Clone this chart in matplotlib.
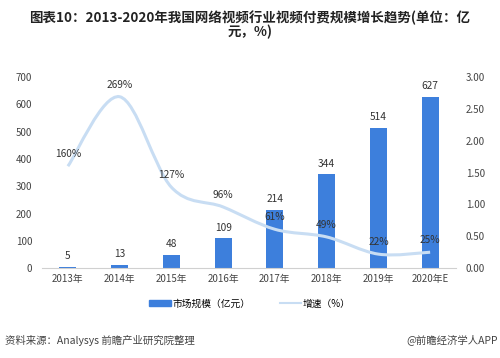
import matplotlib
matplotlib.use("Agg")
import matplotlib.pyplot as plt
from matplotlib.path import Path
from matplotlib.patches import PathPatch

plt.rcParams['font.family'] = ['Noto Sans CJK SC', 'DejaVu Sans']

years = ['2013年', '2014年', '2015年', '2016年', '2017年', '2018年', '2019年', '2020年E']
market_size = [5, 13, 48, 109, 214, 344, 514, 627]
growth = [1.60, 2.69, 1.27, 0.96, 0.61, 0.49, 0.22, 0.25]

bar_color = '#3d7fdc'
line_color = '#c8ddf3'

fig = plt.figure(figsize=(5, 3.58), dpi=100)
ax = fig.add_axes([0.084, 0.251, 0.828, 0.534])
ax2 = ax.twinx()

x = list(range(len(years)))
ax.bar(x, market_size, width=0.33, color=bar_color, zorder=2)
for xi, v in zip(x, market_size):
    ax.annotate(str(v), (xi, v), xytext=(0, 4), textcoords='offset points',
                ha='center', va='bottom', fontsize=7.3, color='#333333')

# smoothed line (Catmull-Rom style bezier, like Excel's smooth line)
verts = [(x[0], growth[0])]
codes = [Path.MOVETO]
n = len(x)
for i in range(n - 1):
    p0 = (x[max(i - 1, 0)], growth[max(i - 1, 0)])
    p1 = (x[i], growth[i])
    p2 = (x[i + 1], growth[i + 1])
    p3 = (x[min(i + 2, n - 1)], growth[min(i + 2, n - 1)])
    c1 = (p1[0] + (p2[0] - p0[0]) / 6, p1[1] + (p2[1] - p0[1]) / 6)
    c2 = (p2[0] - (p3[0] - p1[0]) / 6, p2[1] - (p3[1] - p1[1]) / 6)
    verts += [c1, c2, p2]
    codes += [Path.CURVE4] * 3
ax2.add_patch(PathPatch(Path(verts, codes), facecolor='none',
                        edgecolor=line_color, lw=2.2, zorder=3))
for xi, g in zip(x, growth):
    ax2.annotate(f'{round(g * 100)}%', (xi, g), xytext=(0, 5), textcoords='offset points',
                 ha='center', va='bottom', fontsize=7.3, color='#333333')

ax.set_xlim(-0.5, len(years) - 0.5)
ax.set_ylim(0, 700)
ax.set_yticks(range(0, 701, 100))
ax2.set_ylim(0, 3)
ax2.set_yticks([0, 0.5, 1, 1.5, 2, 2.5, 3])
ax2.set_yticklabels([f'{t:.2f}' for t in [0, 0.5, 1, 1.5, 2, 2.5, 3]])
ax.set_xticks(x)
ax.set_xticklabels(years)

for a in (ax, ax2):
    for s in a.spines.values():
        s.set_visible(False)
    a.tick_params(length=0, labelsize=7, colors='#444444')
ax.spines['bottom'].set_visible(True)
ax.spines['bottom'].set_color('#d0d0d0')
ax.tick_params(axis='y', pad=7)
ax2.tick_params(axis='y', pad=7)
ax.tick_params(axis='x', pad=4)

# legend
h1 = plt.Rectangle((0, 0), 1, 1, color=bar_color)
h2 = plt.Line2D([], [], color=line_color, lw=1.5)
fig.legend([h1, h2], ['市场规模（亿元）', '增速（%）'], loc='center',
           bbox_to_anchor=(0.5, 0.152), ncol=2, frameon=False, fontsize=7,
           handlelength=2.2, handleheight=0.6, columnspacing=3, handletextpad=0.2)

fig.text(0.5, 0.93, '图表10：2013-2020年我国网络视频行业视频付费规模增长趋势(单位：亿\n元，%)',
         ha='center', va='center', fontsize=9.7, fontweight='bold', color='#222222',
         linespacing=1.0)
fig.text(0.01, 0.05, '资料来源：Analysys 前瞻产业研究院整理', ha='left', va='center',
         fontsize=7.5, color='#444444')
fig.text(0.995, 0.05, '@前瞻经济学人APP', ha='right', va='center',
         fontsize=7.5, color='#444444')

fig.savefig('out.png', dpi=100)
